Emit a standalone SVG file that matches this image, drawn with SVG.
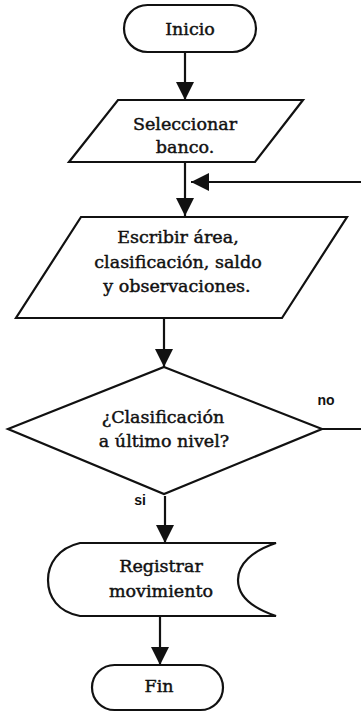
<svg xmlns="http://www.w3.org/2000/svg" width="361" height="712" viewBox="0 0 361 712">
<style>
.shape{fill:none;stroke:#111;stroke-width:2.2;stroke-linejoin:miter}
.conn{fill:none;stroke:#111;stroke-width:2.2}
.t{font-family:"DejaVu Serif","Liberation Serif",serif;font-size:17.5px;fill:#111;stroke:#111;stroke-width:0.45;text-anchor:middle}
.lbl{font-family:"Liberation Sans","DejaVu Sans",sans-serif;font-size:14px;font-weight:bold;fill:#111;text-anchor:middle}
</style>
<defs>
<marker id="arr" markerUnits="userSpaceOnUse" markerWidth="18" markerHeight="18" viewBox="0 0 16 16" refX="16" refY="8" orient="auto">
<path d="M0,0 L16,8 L0,16 Z" fill="#111"/>
</marker>
</defs>
<rect width="361" height="712" fill="#fff"/>
<g id="connectors">
<line class="conn" x1="185" y1="52" x2="185" y2="100" marker-end="url(#arr)"/>
<line class="conn" x1="185" y1="163" x2="185" y2="216" marker-end="url(#arr)"/>
<line class="conn" x1="361" y1="182" x2="191" y2="182" marker-end="url(#arr)"/>
<line class="conn" x1="164" y1="318" x2="164" y2="367" marker-end="url(#arr)"/>
<line class="conn" x1="322" y1="429" x2="361" y2="429"/>
<line class="conn" x1="165" y1="496" x2="165" y2="543" marker-end="url(#arr)"/>
<line class="conn" x1="160" y1="616" x2="160" y2="665" marker-end="url(#arr)"/>
<text class="lbl" x="326" y="405">no</text>
<text class="lbl" x="140" y="505">si</text>
</g>
<g id="inicio">
<rect class="shape" x="124" y="5" width="132" height="47" rx="23.5" ry="23.5"/>
<text class="t" x="190" y="35">Inicio</text>
</g>
<g id="seleccionar">
<polygon class="shape" points="118,100 303,100 255,162 69,162"/>
<text class="t" x="185" y="130">Seleccionar</text>
<text class="t" x="185" y="153">banco.</text>
</g>
<g id="escribir">
<polygon class="shape" points="81,217 347,217 282,318 16,318"/>
<text class="t" x="178" y="243">Escribir área,</text>
<text class="t" x="178" y="268">clasificación, saldo</text>
<text class="t" x="177" y="292">y observaciones.</text>
</g>
<g id="decision">
<polygon class="shape" points="164,367 322,429 164,494 8,429"/>
<text class="t" x="163" y="423">¿Clasificación</text>
<text class="t" x="164" y="447">a último nivel?</text>
</g>
<g id="registrar">
<path class="shape" d="M276,543 L80,543 C58,548 48,564 48,580 C48,597 58,612 80,616 L276,616 C252,608 238,596 238,580 C238,564 252,551 276,543 Z"/>
<text class="t" x="161" y="572">Registrar</text>
<text class="t" x="161" y="597">movimiento</text>
</g>
<g id="fin">
<rect class="shape" x="92" y="665" width="131" height="45" rx="22.5" ry="22.5"/>
<text class="t" x="159" y="692">Fin</text>
</g>
</svg>
